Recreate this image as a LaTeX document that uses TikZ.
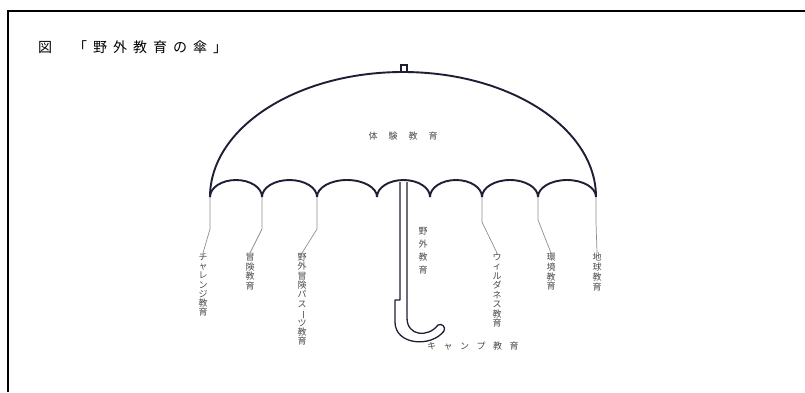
\documentclass[tikz,border=0pt]{standalone}
\usepackage{fontspec}
\newfontfamily\jp{Noto Sans CJK JP}
\definecolor{ink}{HTML}{1E1E34}
\definecolor{guidegray}{HTML}{8E8E8E}
\definecolor{labelgray}{HTML}{4A4A4A}
\ExplSyntaxOn
% horizontal text with extra space between the characters
\NewDocumentCommand\spread{mm}{\tl_map_inline:nn{#2}{##1\kern#1}\kern-#1}
% characters stacked top to bottom with a fixed pitch
\NewDocumentCommand\tate{mm}{\vbox{\baselineskip=#1\lineskiplimit=-100pt\lineskip=0pt
  \tl_map_inline:nn{#2}{\hbox_to_wd:nn{1em}{\hss##1\hss}}}}
\ExplSyntaxOff
\newcommand\tatebar{\rotatebox[origin=c]{-90}{ー}}
\begin{document}
\begin{tikzpicture}[x=1pt,y=-1pt,
  canopy/.style={draw=ink,line width=1.9pt,line join=round},
  shaft/.style={draw=ink,line width=1.3pt,line join=round},
  guide/.style={draw=guidegray,line width=0.7pt},
  lbl/.style={text=labelgray,font=\jp\fontsize{9}{9}\selectfont,inner sep=0pt},
]
\useasboundingbox (0,0) rectangle (805,392);
\fill[white] (0,0) rectangle (805,392);
% frame (only its top and left edges fall on the page)
\draw[line width=2.2pt] (8,392) -- (8,11) -- (805,11);

% title
\node[anchor=west,inner sep=0pt,font=\jp\fontsize{14}{14}\selectfont] (title) at (38,47)
  {図\kern21pt\spread{6pt}{「野外教育の傘」}};

% rim points between the scallops
\foreach \n/\x in {1/210,2/262,3/317,4/377,5/430,6/482,7/538,8/596}
  \coordinate (c\n) at (\x,197);

% canopy
\draw[canopy] (c1) arc[start angle=180,end angle=360,x radius=193,y radius=125];
\foreach \a/\b in {210/262,262/317,317/377,377/430,430/482,482/538,538/596}
  \draw[canopy] (\a,197) arc[start angle=180,end angle=360,x radius={(\b-\a)/2},y radius=17];
% knob on top
\draw[ink,line width=1.4pt] (401,73) -- (401,65) -- (407,65) -- (407,73);

% shaft and handle
\draw[shaft] (400,182) -- (400,300) -- (395,300) -- (395,322)
  .. controls (395,345) and (431,348) .. (444,331)
  .. controls (446,327) and (442,323) .. (438,325)
  .. controls (428,338) and (407,336) .. (407,318) -- (407,182);

\node[lbl] (experience) at (403,136) {\spread{11pt}{体験教育}};
\node[lbl,anchor=north] (outdoor) at (423,227) {\tate{13pt}{野外教育}};
\node[lbl,anchor=west] (camp) at (427,346) {\spread{7.5pt}{キャンプ教育}};

% branch labels hanging from the rim
\node[lbl,anchor=north] (challenge) at (203,253) {\tate{9.3pt}{チャレンジ教育}};
\node[lbl,anchor=north] (adventure) at (250,253) {\tate{9.8pt}{冒険教育}};
\node[lbl,anchor=north] (pursuits) at (302,253) {\tate{9.4pt}{野外冒険パス{\tatebar}ツ教育}};
\node[lbl,anchor=north] (wilderness) at (497,253) {\tate{9.5pt}{ウィルダネス教育}};
\node[lbl,anchor=north] (environment) at (551,253) {\tate{9.8pt}{環境教育}};
\node[lbl,anchor=north] (earth) at (597,253) {\tate{9.8pt}{地球教育}};

\draw[guide] (c1) -- (210,229) -- (challenge.north);
\draw[guide] (c2) -- (262,229) -- (adventure.north);
\draw[guide] (c3) -- (317,229) -- (pursuits.north);
\draw[guide] (c6) -- (482,222) -- (wilderness.north);
\draw[guide] (c7) -- (538,220) -- (environment.north);
\draw[guide] (c8) -- (596,222) -- (earth.north);
\end{tikzpicture}
\end{document}
